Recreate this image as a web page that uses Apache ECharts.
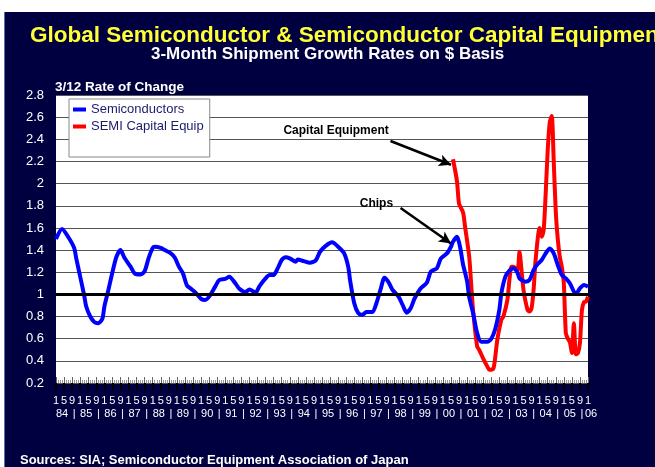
<!DOCTYPE html>
<html>
<head>
<meta charset="utf-8">
<script src="https://cdn.jsdelivr.net/npm/echarts@6/dist/echarts.min.js"></script>
<style>
  html, body { margin: 0; padding: 0; background: #fff; }
  #chart { width: 655px; height: 467px; }
</style>
</head>
<body>
<div id="chart"></div>
<script>
// years on the x axis (Jan 84 .. Jan 06, monthly)
var years = ['84', '85', '86', '87', '88', '89', '90', '91', '92', '93', '94',
  '95', '96', '97', '98', '99', '00', '01', '02', '03', '04', '05', '06'];
var monthTicks = { 0: '1', 4: '5', 8: '9' };

// Semiconductors: month index (0 = Jan 84) and 3/12 rate
var semiMonth = [0, 3, 6, 9, 10, 12, 14, 15, 17, 19, 21, 23, 24, 26, 28, 30, 32, 34, 37, 39,
  42, 44, 46, 48, 49, 52, 54, 57, 59, 61, 63, 65, 67, 69, 72, 74, 76, 79, 81, 84,
  86, 89, 91, 94, 96, 99, 101, 104, 106, 108, 110, 112, 114, 116, 119, 120, 123, 126, 129, 131,
  134, 137, 140, 143, 145, 146, 148, 150, 152, 154, 157, 159, 161, 163, 165, 167, 170, 172, 174, 176,
  178, 181, 184, 186, 189, 191, 194, 196, 197, 199, 200, 201, 202, 204, 205, 207, 209, 211, 214, 216,
  218, 220, 221, 223, 225, 227, 229, 230, 233, 235, 237, 239, 241, 243, 245, 247, 249, 251, 253, 255,
  257, 258, 260, 262, 264];
var semiValue = [1.50, 1.59, 1.52, 1.42, 1.33, 1.16, 0.99, 0.89, 0.80, 0.75, 0.74, 0.78, 0.89, 1.04, 1.20, 1.34, 1.40, 1.33, 1.25, 1.19,
  1.18, 1.21, 1.33, 1.42, 1.43, 1.42, 1.40, 1.37, 1.33, 1.25, 1.19, 1.08, 1.05, 1.02, 0.96, 0.95, 0.98, 1.07, 1.13, 1.14,
  1.16, 1.10, 1.05, 1.02, 1.045, 1.015, 1.075, 1.145, 1.175, 1.175, 1.235, 1.31, 1.335, 1.325, 1.295, 1.316, 1.30, 1.285, 1.31, 1.385,
  1.44, 1.47, 1.43, 1.37, 1.25, 1.12, 0.92, 0.83, 0.815, 0.84, 0.84, 0.92, 1.04, 1.15, 1.11, 1.04, 0.98, 0.905, 0.835, 0.875,
  0.965, 1.055, 1.105, 1.205, 1.235, 1.325, 1.37, 1.43, 1.475, 1.52, 1.47, 1.38, 1.27, 1.12, 0.98, 0.83, 0.65, 0.573, 0.573, 0.60,
  0.69, 0.86, 1.01, 1.16, 1.214, 1.235, 1.196, 1.145, 1.115, 1.13, 1.22, 1.274, 1.31, 1.37, 1.415, 1.37, 1.265, 1.175, 1.145, 1.10,
  1.025, 1.004, 1.055, 1.085, 1.07];

// SEMI capital equipment (starts late 2000)
var equipMonth = [197, 199, 200, 202, 203, 205, 206, 207, 209, 210, 212, 214, 215, 217, 218, 219, 221, 222, 224, 225,
  226, 227, 229, 230, 231, 232, 234, 235, 236, 237, 238, 240, 241, 242, 243, 244, 245, 246, 247, 248,
  249, 250, 251, 252, 253, 254, 255, 256, 257, 258, 259, 260, 261, 262, 263, 264];
var equipValue = [2.22, 2.02, 1.82, 1.74, 1.61, 1.35, 1.10, 0.85, 0.53, 0.50, 0.42, 0.35, 0.32, 0.33, 0.44, 0.59, 0.77, 0.80, 0.95, 1.13,
  1.25, 1.25, 1.22, 1.385, 1.22, 1.04, 0.86, 0.845, 0.875, 1.04, 1.31, 1.60, 1.52, 1.58, 1.91, 2.30, 2.55, 2.61, 2.20, 1.75,
  1.50, 1.34, 1.25, 1.10, 0.65, 0.60, 0.57, 0.47, 0.74, 0.46, 0.47, 0.56, 0.86, 0.93, 0.935, 0.98];

var categories = [];
years.forEach(function (y, k) {
  var n = k === years.length - 1 ? 1 : 12;
  for (var m = 0; m < n; m++) categories.push(y + '-' + (m + 1));
});

function pairs(xs, vs) {
  return xs.map(function (x, k) { return [x, vs[k]]; });
}

var font = '"Liberation Sans", Arial, Helvetica, sans-serif';
var navy = '#000040';

var chart = echarts.init(document.getElementById('chart'));
chart.setOption({
  animation: false,
  backgroundColor: '#fff',
  textStyle: { fontFamily: font },
  graphic: [
    { type: 'rect', z: -10, shape: { x: 5, y: 12, width: 660, height: 470 }, style: { fill: navy } },
    { type: 'rect', z: -10, shape: { x: 4, y: 12, width: 1, height: 470 }, style: { fill: '#5070b0' } }
  ],
  title: [
    {
      text: 'Global Semiconductor & Semiconductor Capital Equipment',
      left: 25, top: 19,
      textStyle: { color: '#ffff33', fontSize: 22.5, fontWeight: 'bold', fontFamily: font }
    },
    {
      text: '3-Month Shipment Growth Rates on $ Basis',
      left: 146, top: 41,
      textStyle: { color: '#fff', fontSize: 17, fontWeight: 'bold', fontFamily: font }
    },
    {
      text: '3/12 Rate of Change',
      left: 50, top: 75,
      textStyle: { color: '#fff', fontSize: 13.5, fontWeight: 'bold', fontFamily: font }
    },
    {
      text: 'Sources: SIA; Semiconductor Equipment Association of Japan',
      left: 15, top: 449,
      textStyle: { color: '#fff', fontSize: 13, fontWeight: 'bold', fontFamily: font }
    }
  ],
  legend: {
    orient: 'vertical',
    left: 69, top: 99,
    backgroundColor: '#fff',
    borderColor: '#888',
    borderWidth: 1,
    padding: [4, 6, 24, 4],
    itemGap: 4,
    itemWidth: 13,
    itemHeight: 4,
    icon: 'rect',
    textStyle: { color: '#1c1c6c', fontSize: 13, fontFamily: font },
    data: ['Semiconductors', 'SEMI Capital Equip']
  },
  grid: {
    left: 56, top: 95, width: 532, height: 288,
    show: true, backgroundColor: '#fff', borderWidth: 0
  },
  xAxis: [
    {
      type: 'category', data: categories, boundaryGap: false,
      axisLine: { show: false },
      axisTick: { show: true, inside: true, interval: 0, length: 3, lineStyle: { color: '#999' } },
      axisLabel: {
        interval: 0, color: '#fff', fontSize: 11, margin: 12,
        formatter: function (v, i) { return monthTicks[i % 12] || ''; }
      }
    },
    {
      type: 'category', data: categories, boundaryGap: false, position: 'bottom',
      axisLine: { show: false },
      axisTick: { show: true, inside: true, interval: 3, length: 6, lineStyle: { color: '#666' } },
      axisLabel: {
        interval: 0, color: '#fff', fontSize: 11, margin: 25,
        formatter: function (v, i) {
          if (i === categories.length - 1) return '  ' + years[years.length - 1];
          if (i % 12 === 3) return years[Math.floor(i / 12)];
          if (i % 12 === 9) return '|';
          return '';
        }
      }
    },
    {
      type: 'category', data: categories, boundaryGap: false, position: 'bottom',
      axisLine: { show: false },
      axisTick: { show: true, inside: false, interval: 3, length: 7, lineStyle: { color: '#000', width: 2 } },
      axisLabel: { show: false }
    }
  ],
  yAxis: {
    type: 'value', min: 0.2, max: 2.8, interval: 0.2,
    axisLine: { show: false },
    axisTick: { show: false },
    axisLabel: { color: '#fff', fontSize: 13, margin: 12 },
    splitLine: { lineStyle: { color: '#555', width: 1 } }
  },
  series: [
    {
      name: 'SEMI Capital Equip',
      type: 'line',
      data: pairs(equipMonth, equipValue),
      smooth: 0.25,
      showSymbol: false,
      color: '#ff0000',
      lineStyle: { color: '#ff0000', width: 4 },
      z: 2,
      markLine: {
        silent: true, symbol: ['none', 'none'],
        label: { show: false },
        lineStyle: { color: '#000', width: 3, type: 'solid' },
        data: [{ yAxis: 1 }]
      }
    },
    {
      name: 'Semiconductors',
      type: 'line',
      data: pairs(semiMonth, semiValue),
      smooth: 0.25,
      showSymbol: false,
      color: '#0000ff',
      lineStyle: { color: '#0000ff', width: 4 },
      z: 3,
      markLine: {
        silent: true, symbol: ['none', 'arrow'], symbolSize: [9, 12],
        label: { show: false },
        lineStyle: { color: '#000', width: 2.5, type: 'solid' },
        data: [
          [{ coord: [166, 2.385] }, { coord: [196, 2.17] }],
          [{ coord: [171, 1.78] }, { coord: [196, 1.46] }]
        ]
      },
      markPoint: {
        silent: true, symbol: 'rect', symbolSize: 1,
        itemStyle: { color: 'rgba(0,0,0,0)' },
        label: { show: true, position: 'inside', color: '#000', fontSize: 12, fontWeight: 'bold', formatter: '{b}' },
        data: [
          { name: 'Capital Equipment', coord: [139, 2.475] },
          { name: 'Chips', coord: [159, 1.816] }
        ]
      }
    }
  ]
});
</script>
</body>
</html>
